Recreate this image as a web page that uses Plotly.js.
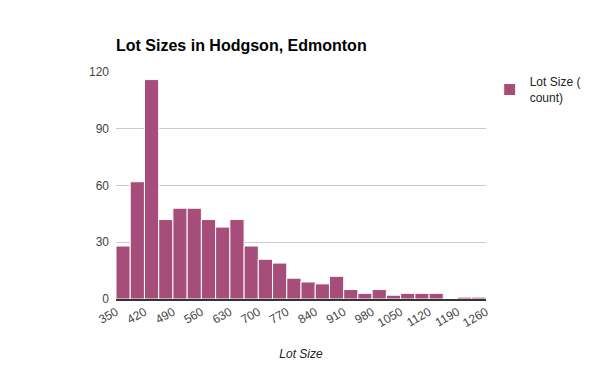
<!DOCTYPE html>
<html><head><meta charset="utf-8">
<script src="https://cdn.plot.ly/plotly-3.0.1.min.js"></script>
<style>html,body{margin:0;padding:0;background:#fff}#chart{width:600px;height:371px}</style>
</head><body><div id="chart"></div>
<script>
const binStarts = [350,385,420,455,490,525,560,595,630,665,700,735,770,805,840,875,910,945,980,1015,1050,1085,1120,1155,1190,1225];
const counts = [28,62,116,42,48,48,42,38,42,28,21,19,11,9,8,12,5,3,5,2,3,3,3,0,1,1];
const binWidth = 35;
const tickVals = [350,420,490,560,630,700,770,840,910,980,1050,1120,1190,1260];
const yTicks = [0,30,60,90,120];
const FONT = 'Arial, "Liberation Sans", sans-serif';

Plotly.newPlot('chart', [{
  type: 'bar',
  x: binStarts,
  y: counts,
  width: binWidth,
  offset: 0,
  name: 'Lot Size (<br>count)',
  marker: {color: '#a64d79', line: {color: '#ffffff', width: 1}},
  hoverinfo: 'x+y'
}], {
  width: 600, height: 371,
  margin: {l: 116, r: 114, t: 72, b: 72, autoexpand: false},
  paper_bgcolor: '#fff', plot_bgcolor: '#fff',
  font: {family: FONT, size: 12, color: '#444'},
  title: {text: '<b>Lot Sizes in Hodgson, Edmonton</b>', x: 116/600, xanchor: 'left', xref: 'container',
          y: 1 - 45/371, yanchor: 'middle', font: {family: FONT, size: 16, color: '#000'}},
  xaxis: {range: [350, 1260], tickmode: 'array', tickvals: tickVals, ticktext: tickVals.map(String),
          tickangle: -30, showgrid: false, zeroline: false, showline: true, linecolor: '#333', linewidth: 1.5,
          ticks: '', tickfont: {size: 12, color: '#444'},
          title: {text: '<i>Lot Size</i>', standoff: 20, font: {size: 12, color: '#222'}}},
  yaxis: {range: [0, 120], tickmode: 'array', tickvals: yTicks, showgrid: true, gridcolor: '#cccccc',
          zeroline: false, ticks: '', ticklabelstandoff: 6, tickfont: {size: 12, color: '#444'}},
  showlegend: true,
  legend: {x: 1.01, xanchor: 'left', y: 1.02, yanchor: 'top', font: {size: 12, color: '#222'}, bgcolor: 'rgba(0,0,0,0)'},
  bargap: 0
}, {displayModeBar: false, staticPlot: true});
</script></body></html>
